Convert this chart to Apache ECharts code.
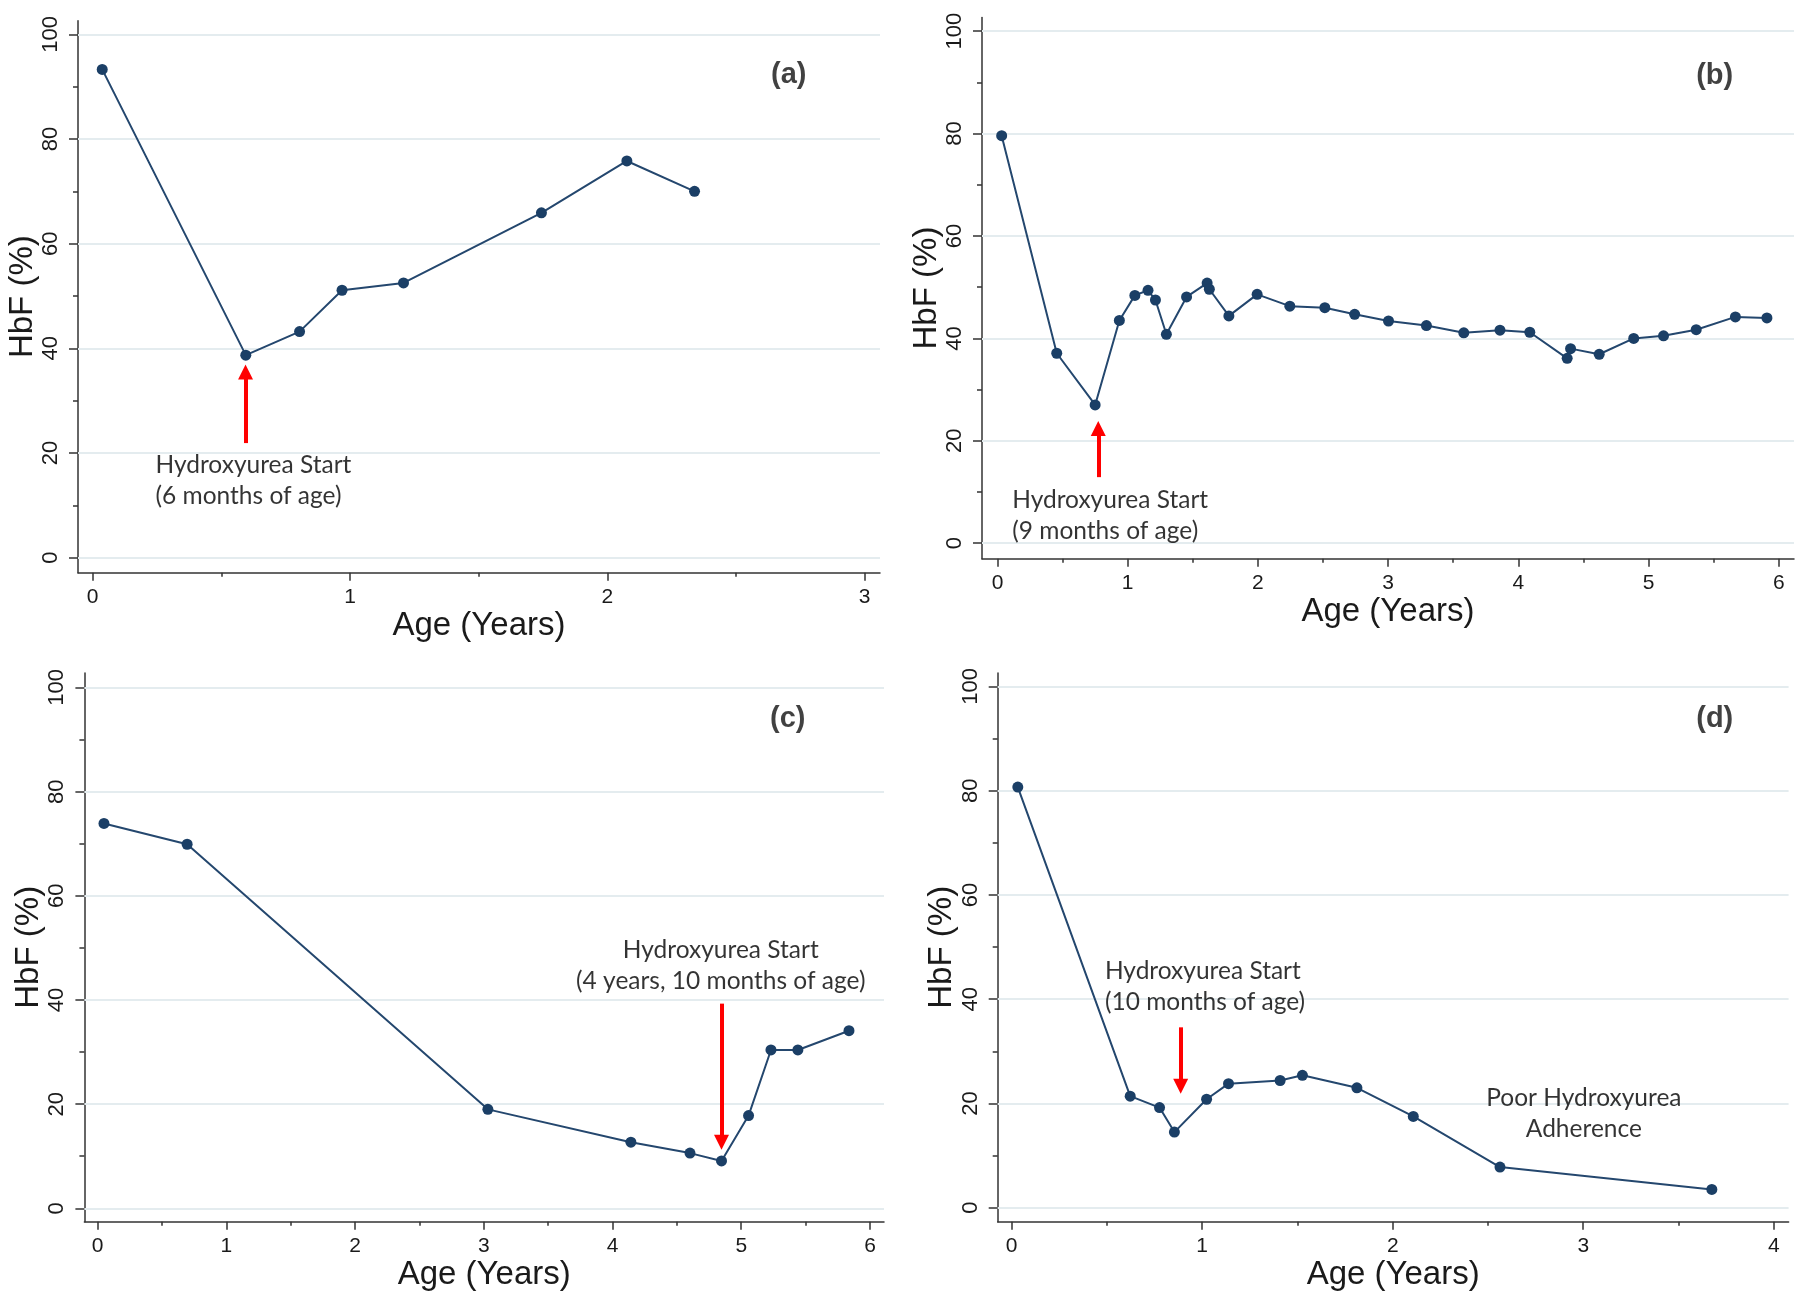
<!DOCTYPE html>
<html>
<head>
<meta charset="utf-8">
<script src="https://cdn.jsdelivr.net/npm/echarts@6/dist/echarts.min.js"></script>
<style>
html,body{margin:0;padding:0;background:#ffffff;}
#chart{width:1800px;height:1302px;}
</style>
</head>
<body>
<div id="chart"></div>
<script>
// ---------- DATA ----------
const ageA = [0.037, 0.595, 0.804, 0.969, 1.208, 1.744, 2.076, 2.339];
const hbfA = [93.3, 38.7, 43.2, 51.1, 52.5, 65.9, 75.8, 70.0];

const ageB = [0.032, 0.455, 0.750, 0.936, 1.055, 1.156, 1.213, 1.297, 1.452, 1.610, 1.627, 1.777, 1.994, 2.245, 2.514,
              2.743, 3.003, 3.294, 3.581, 3.859, 4.088, 4.375, 4.401, 4.621, 4.886, 5.115, 5.366, 5.667, 5.909];
const hbfB = [79.6, 37.1, 27.0, 43.5, 48.4, 49.4, 47.5, 40.8, 48.1, 50.8, 49.6, 44.4, 48.6, 46.3, 46.0,
              44.7, 43.4, 42.5, 41.1, 41.6, 41.2, 36.1, 38.0, 36.9, 40.0, 40.5, 41.7, 44.2, 44.0];

const ageC = [0.050, 0.696, 3.032, 4.143, 4.602, 4.847, 5.057, 5.231, 5.440, 5.837];
const hbfC = [73.9, 69.9, 19.0, 12.7, 10.6, 9.1, 17.8, 30.4, 30.4, 34.1];

const ageD = [0.032, 0.622, 0.776, 0.854, 1.023, 1.138, 1.409, 1.526, 1.812, 2.108, 2.563, 3.675];
const hbfD = [80.7, 21.4, 19.2, 14.5, 20.8, 23.8, 24.4, 25.4, 23.0, 17.5, 7.8, 3.5];

const yTicks = [0, 20, 40, 60, 80, 100];
const yMinorTicks = [10, 30, 50, 70, 90];
const xTicksA = [0, 1, 2, 3];
const xMinorA = [0.5, 1.5, 2.5];
const xTicksB = [0, 1, 2, 3, 4, 5, 6];
const xMinorB = [0.5, 1.5, 2.5, 3.5, 4.5, 5.5];
const xTicksC = [0, 1, 2, 3, 4, 5, 6];
const xMinorC = [0.5, 1.5, 2.5, 3.5, 4.5, 5.5];
const xTicksD = [0, 1, 2, 3, 4];
const xMinorD = [0.5, 1.5, 2.5, 3.5];

const panelNames = ['(a)', '(b)', '(c)', '(d)'];
const noteStart = ['Hydroxyurea Start\n(6 months of age)', 'Hydroxyurea Start\n(9 months of age)',
                   'Hydroxyurea Start\n(4 years, 10 months of age)', 'Hydroxyurea Start\n(10 months of age)'];
const notePoor = 'Poor Hydroxyurea\nAdherence';

// arrow (hydroxyurea start) : age, from HbF level, to HbF level
const arrowAge = [0.594, 0.774, 4.847, 0.887];
const arrowFrom = [21.9, 12.9, 39.3, 34.6];
const arrowTo = [35.5, 22.4, 12.7, 23.3];

const xTitle = 'Age (Years)';
const yTitle = 'HbF (%)';

// ---------- LAYOUT ----------
const layout = [
  {grid: {left: 78, top: 20.7, width: 802, height: 552}, x: [-0.0571, 3.0598], y: [-2.866, 102.6],
   label: [2.707, 92.2], note: [0.246, 14.6, 'left']},
  {grid: {left: 982, top: 17.4, width: 812, height: 541.3}, x: [-0.119, 6.117], y: [-3.03, 102.7],
   label: [5.512, 91.2], note: [0.117, 5.3, 'left']},
  {grid: {left: 84.4, top: 672.9, width: 799.6, height: 548.8}, x: [-0.102, 6.109], y: [-2.57, 102.8],
   label: [5.365, 93.9], note: [4.845, 46.5, 'center']},
  {grid: {left: 997.7, top: 672.9, width: 790.9, height: 548.8}, x: [-0.0735, 4.078], y: [-2.69, 102.6],
   label: [3.693, 93.7], note: [0.492, 42.4, 'left'], note2: [3.006, 17.9, 'center']}
];

const ages = [ageA, ageB, ageC, ageD];
const hbfs = [hbfA, hbfB, hbfC, hbfD];
const xTicks = [xTicksA, xTicksB, xTicksC, xTicksD];
const xMinor = [xMinorA, xMinorB, xMinorC, xMinorD];

const AXIS_COLOR = '#333333';
const TEXT_COLOR = '#1a1a1a';
const AXIS_FONT = 'Liberation Sans, Arial, sans-serif';
const NOTE_FONT = 'Lato, Open Sans, sans-serif';

const grids = [], xAxes = [], yAxes = [], series = [];

layout.forEach((L, i) => {
  grids.push(Object.assign({containLabel: false}, L.grid));
  // major x
  xAxes.push({
    type: 'value', gridIndex: i, min: L.x[0], max: L.x[1], position: 'bottom',
    axisLine: {show: true, onZero: false, lineStyle: {color: AXIS_COLOR, width: 1.5}},
    axisTick: {show: true, customValues: xTicks[i], length: 8, lineStyle: {color: AXIS_COLOR, width: 1.5}},
    axisLabel: {show: true, customValues: xTicks[i], margin: 14, fontFamily: AXIS_FONT, fontSize: 21, color: TEXT_COLOR},
    splitLine: {show: false},
    name: xTitle, nameLocation: 'middle', nameGap: 37,
    nameTextStyle: {fontFamily: AXIS_FONT, fontSize: 33, color: TEXT_COLOR}
  });
  // minor x
  xAxes.push({
    type: 'value', gridIndex: i, min: L.x[0], max: L.x[1], position: 'bottom',
    axisLine: {show: false, onZero: false},
    axisTick: {show: true, customValues: xMinor[i], length: 4, lineStyle: {color: AXIS_COLOR, width: 1.5}},
    axisLabel: {show: false},
    splitLine: {show: false}
  });
  // major y
  yAxes.push({
    type: 'value', gridIndex: i, min: L.y[0], max: L.y[1], position: 'left',
    axisLine: {show: true, onZero: false, lineStyle: {color: AXIS_COLOR, width: 1.5}},
    axisTick: {show: true, customValues: yTicks, length: 9, lineStyle: {color: AXIS_COLOR, width: 1.5}},
    axisLabel: {show: true, customValues: yTicks, rotate: 90, margin: 16, fontFamily: AXIS_FONT, fontSize: 22, color: TEXT_COLOR},
    splitLine: {show: false},
    name: yTitle, nameLocation: 'middle', nameGap: 37, nameRotate: 90,
    nameTextStyle: {fontFamily: AXIS_FONT, fontSize: 33, color: TEXT_COLOR}
  });
  // minor y
  yAxes.push({
    type: 'value', gridIndex: i, min: L.y[0], max: L.y[1], position: 'left',
    axisLine: {show: false, onZero: false},
    axisTick: {show: true, customValues: yMinorTicks, length: 5, lineStyle: {color: AXIS_COLOR, width: 1.5}},
    axisLabel: {show: false},
    splitLine: {show: false}
  });

  const pts = ages[i].map((a, k) => [a, hbfs[i][k]]);
  series.push({
    type: 'line', xAxisIndex: 2 * i, yAxisIndex: 2 * i, data: pts,
    symbol: 'circle', symbolSize: 11, showSymbol: true, silent: true, z: 3,
    lineStyle: {color: '#24476e', width: 2},
    itemStyle: {color: '#1b3f66'},
    markLine: {
      silent: true, symbol: 'none', z: 1, animation: false,
      label: {show: false},
      lineStyle: {color: '#e4ecef', width: 2, type: 'solid'},
      data: yTicks.map(v => ({yAxis: v}))
    }
  });

  const texts = [
    {value: [L.label[0], L.label[1]],
     label: {formatter: panelNames[i], align: 'center', verticalAlign: 'middle', fontFamily: AXIS_FONT,
             fontWeight: 'bold', fontSize: 29, color: '#111111'}},
    {value: [L.note[0], L.note[1]],
     label: {formatter: noteStart[i], align: L.note[2], verticalAlign: 'middle', fontFamily: NOTE_FONT,
             fontSize: 24.5, lineHeight: 31, color: '#000000'}}
  ];
  if (L.note2) {
    texts.push({value: [L.note2[0], L.note2[1]],
      label: {formatter: notePoor, align: L.note2[2], verticalAlign: 'middle', fontFamily: NOTE_FONT,
              fontSize: 24.5, lineHeight: 31, color: '#000000'}});
  }
  series.push({
    type: 'scatter', xAxisIndex: 2 * i, yAxisIndex: 2 * i, data: texts,
    symbol: 'circle', symbolSize: 1, silent: true, z: 4,
    itemStyle: {color: 'rgba(0,0,0,0)'},
    label: {show: true, position: [0, 0]},
    markLine: {
      silent: true, symbol: ['none', 'triangle'], symbolSize: 15, z: 5, animation: false,
      label: {show: false},
      lineStyle: {color: '#ff0000', width: 4, type: 'solid', opacity: 1},
      data: [[{coord: [arrowAge[i], arrowFrom[i]]}, {coord: [arrowAge[i], arrowTo[i]]}]]
    }
  });
});

const chart = echarts.init(document.getElementById('chart'), null, {renderer: 'canvas'});
chart.setOption({
  backgroundColor: '#ffffff',
  animation: false,
  grid: grids,
  xAxis: xAxes,
  yAxis: yAxes,
  series: series
});
</script>
</body>
</html>
